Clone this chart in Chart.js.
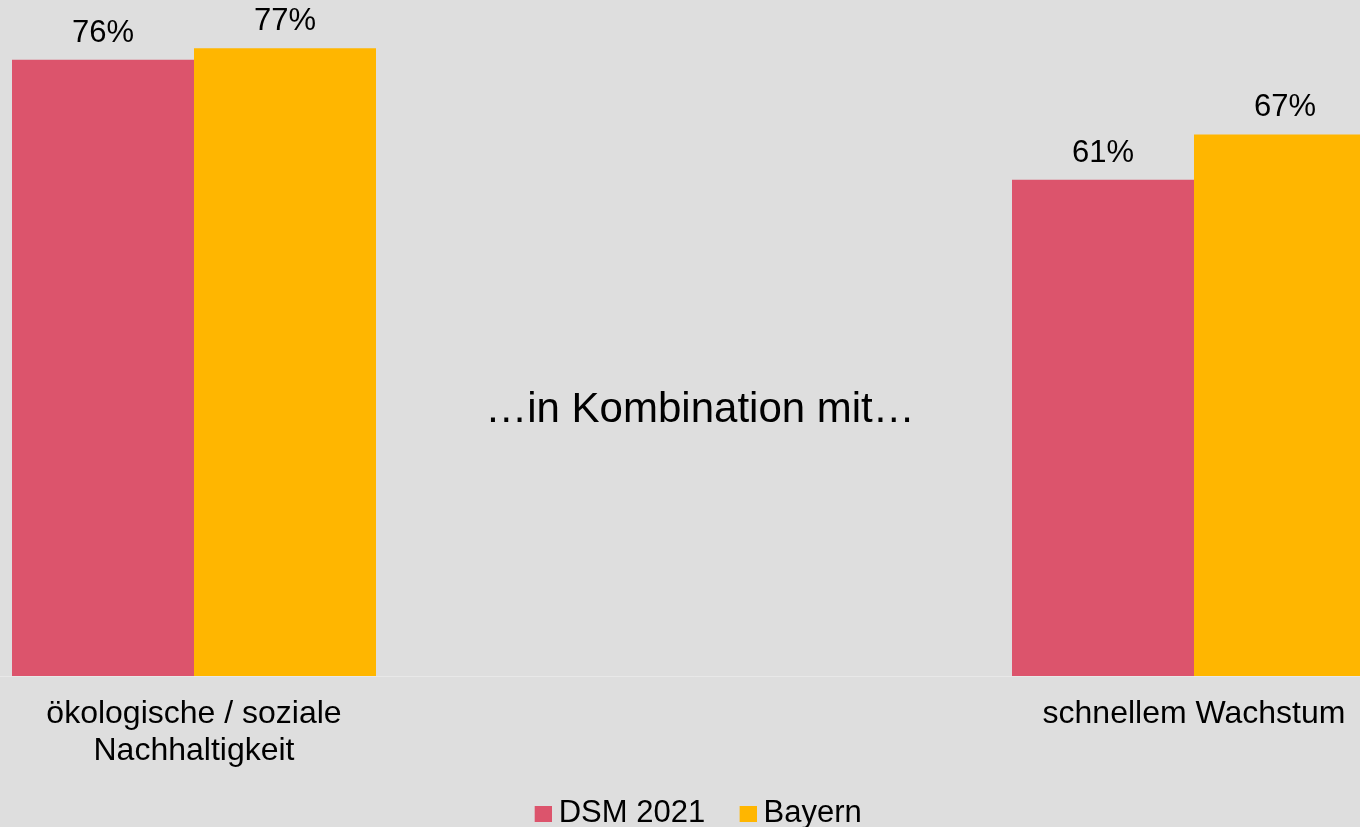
<!DOCTYPE html>
<html>
<head>
<meta charset="utf-8">
<script src="https://cdn.jsdelivr.net/npm/chart.js@4.4.0/dist/chart.umd.min.js"></script>
<style>
  html, body { margin: 0; padding: 0; background: #dedede; overflow: hidden; width: 1360px; height: 827px; }
  #wrap { position: absolute; left: -56px; top: 0; width: 1500px; height: 839px; }
</style>
</head>
<body>
<div id="wrap"><canvas id="chart" width="1500" height="839"></canvas></div>
<script>
// data
const categories = [["ökologische / soziale", "Nachhaltigkeit"], "", "schnellem Wachstum"];
const dsm2021 = [75.9, null, 61.1];
const bayern = [77.3, null, 66.7];
const middleText = "…in Kombination mit…";

// colors
const pink = "#dc546c";
const yellow = "#ffb600";
const axisLine = "#e8e8e8";

Chart.defaults.font.family = "'Liberation Sans', Arial, sans-serif";
Chart.defaults.color = "#000";

// legend square, shifted right so it sits close to its text
function legendMark(color) {
  const c = document.createElement("canvas");
  c.width = 34;
  c.height = 16;
  const g = c.getContext("2d");
  g.fillStyle = color;
  g.fillRect(17, 0, 17, 16);
  return c;
}
const legendMarks = [legendMark(pink), legendMark(yellow)];

const valueLabels = {
  id: "valueLabels",
  afterDatasetsDraw(chart) {
    const ctx = chart.ctx;
    ctx.save();
    ctx.font = "31px 'Liberation Sans', Arial, sans-serif";
    ctx.fillStyle = "#000";
    ctx.textAlign = "center";
    ctx.textBaseline = "alphabetic";
    chart.data.datasets.forEach((ds, i) => {
      chart.getDatasetMeta(i).data.forEach((bar, j) => {
        if (ds.data[j] == null) return;
        ctx.fillText(Math.round(ds.data[j]) + "%", bar.x, bar.y - 18);
      });
    });
    // text in the empty middle slot
    ctx.font = "42px 'Liberation Sans', Arial, sans-serif";
    const x = chart.scales.x.getPixelForValue(1) + 6;
    const y = chart.scales.y.getPixelForValue(31.3);
    ctx.fillText(middleText, x, y);
    ctx.restore();
  },
};

new Chart(document.getElementById("chart"), {
  type: "bar",
  data: {
    labels: categories,
    datasets: [
      {
        label: "DSM 2021",
        data: dsm2021,
        backgroundColor: pink,
        borderWidth: 0,
        barPercentage: 1,
        categoryPercentage: 0.728,
      },
      {
        label: "Bayern",
        data: bayern,
        backgroundColor: yellow,
        borderWidth: 0,
        barPercentage: 1,
        categoryPercentage: 0.728,
      },
    ],
  },
  options: {
    responsive: false,
    animation: false,
    layout: { padding: 0 },
    scales: {
      x: {
        grid: { display: false, drawTicks: false },
        border: { display: true, color: axisLine, width: 1 },
        ticks: {
          font: { size: 32, lineHeight: 1.15 },
          color: "#000",
          padding: 20,
          maxRotation: 0,
          autoSkip: false,
        },
        afterFit: (scale) => {
          scale.height = 96;
        },
      },
      y: {
        display: false,
        min: 0,
        max: 83.25,
      },
    },
    plugins: {
      tooltip: { enabled: false },
      legend: {
        position: "bottom",
        labels: {
          usePointStyle: true,
          pointStyleWidth: 17,
          boxHeight: 16,
          padding: 26,
          color: "#000",
          font: { size: 31 },
          generateLabels: (chart) =>
            Chart.defaults.plugins.legend.labels
              .generateLabels(chart)
              .map((item, i) => ({ ...item, pointStyle: legendMarks[i] })),
        },
      },
    },
  },
  plugins: [valueLabels],
});
</script>
</body>
</html>
